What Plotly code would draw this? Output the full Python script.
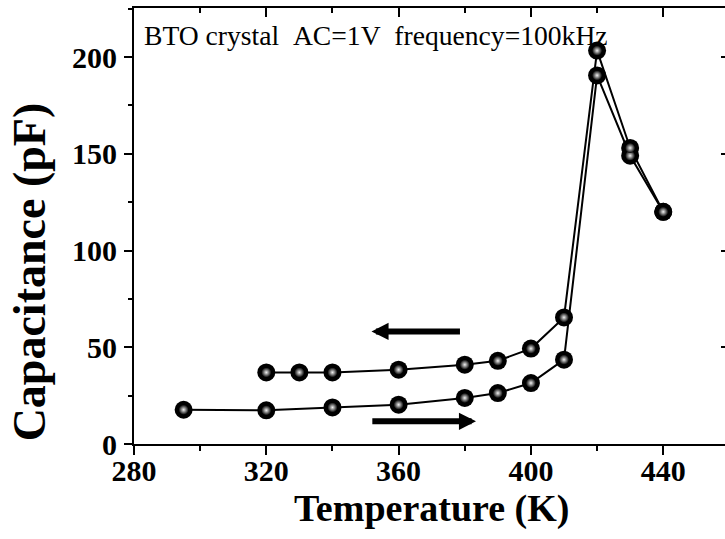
import plotly.graph_objects as go

# Heating run (arrow to the right) and cooling run (arrow to the left)
heat_temp = [295, 320, 340, 360, 380, 390, 400, 410, 420, 430, 440]
heat_cap = [17.7, 17.4, 18.9, 20.3, 23.8, 26.3, 31.5, 43.6, 190.5, 149, 120]
cool_temp = [440, 430, 420, 410, 400, 390, 380, 360, 340, 330, 320]
cool_cap = [120, 153, 203.3, 65.4, 49.3, 43, 41, 38.4, 37, 37, 37]

x_ticks = [280, 320, 360, 400, 440]
y_ticks = [0, 50, 100, 150, 200]

W, H = 725, 539
L, R, T, B = 134.3, 0, 8.3, 94.7
plot_w = W - L - R
plot_h = H - T - B


def px(xp):
    return (xp - L) / plot_w


def py(yp):
    return (H - B - yp) / plot_h


serif = "Liberation Serif"
fig = go.Figure()

for tx, cy in [(heat_temp, heat_cap), (cool_temp, cool_cap)]:
    fig.add_trace(go.Scatter(
        x=tx, y=cy, mode="lines+markers",
        line=dict(color="black", width=2),
        marker=dict(size=18, color="black"),
        showlegend=False, hoverinfo="skip",
    ))
for tx, cy in [(heat_temp, heat_cap), (cool_temp, cool_cap)]:
    fig.add_trace(go.Scatter(
        x=tx, y=cy, mode="markers",
        marker=dict(size=10, color="black",
                    gradient=dict(type="radial", color="#f2f2f2")),
        showlegend=False, hoverinfo="skip",
    ))

# mirror axes (top / right) carry inward ticks
fig.add_trace(go.Scatter(x=[None], y=[None], xaxis="x2", yaxis="y2",
                         showlegend=False, hoverinfo="skip"))

x_range = [280, 280 + plot_w / 3.306]
y_range = [0, plot_h / 1.935]

tickfont = dict(family=serif, size=30, color="black", weight="bold")

fig.update_layout(
    width=W, height=H,
    margin=dict(l=L, r=R, t=T, b=B),
    paper_bgcolor="white", plot_bgcolor="white",
    xaxis=dict(
        range=x_range, tickvals=x_ticks, ticks="outside", ticklen=9,
        tickwidth=2, tickcolor="black", showline=True, linewidth=2,
        linecolor="black", showgrid=False, zeroline=False,
        tickfont=tickfont, ticklabelstandoff=-10,
        minor=dict(dtick=20, tick0=280, ticks="outside", ticklen=5,
                   tickwidth=2, tickcolor="black", showgrid=False),
    ),
    yaxis=dict(
        range=y_range, tickvals=y_ticks, ticks="outside", ticklen=8,
        tickwidth=2, tickcolor="black", showline=True, linewidth=2,
        linecolor="black", showgrid=False, zeroline=False,
        tickfont=tickfont, ticklabelstandoff=1,
        minor=dict(dtick=25, tick0=0, ticks="outside", ticklen=4,
                   tickwidth=2, tickcolor="black", showgrid=False),
    ),
    xaxis2=dict(
        overlaying="x", side="top", matches="x", range=x_range,
        tickvals=x_ticks, ticks="inside", ticklen=9, tickwidth=2,
        tickcolor="black", showline=True, linewidth=2, linecolor="black",
        showticklabels=False, showgrid=False, zeroline=False,
        minor=dict(dtick=20, tick0=280, ticks="inside", ticklen=5,
                   tickwidth=2, tickcolor="black", showgrid=False),
    ),
    yaxis2=dict(
        overlaying="y", side="right", matches="y", range=y_range,
        tickvals=y_ticks, ticks="inside", ticklen=4, tickwidth=2,
        tickcolor="black", showline=False, showticklabels=False,
        showgrid=False, zeroline=False,
    ),
    annotations=[
        dict(text="BTO\u00a0crystal\u00a0\u00a0AC=1V\u00a0\u00a0frequency=100kHz",
             xref="paper", yref="paper", x=px(142), y=py(36),
             xanchor="left", yanchor="middle", showarrow=False,
             font=dict(family=serif, size=27.6, color="black")),
        dict(text="Temperature (K)", xref="paper", yref="paper",
             x=px(432), y=py(509), xanchor="center", yanchor="middle",
             showarrow=False,
             font=dict(family=serif, size=38, color="black", weight="bold")),
        dict(text="Capacitance (pF)", xref="paper", yref="paper",
             x=px(30), y=py(272), xanchor="center", yanchor="middle",
             textangle=-90, showarrow=False,
             font=dict(family=serif, size=46, color="black", weight="bold")),
        # direction arrows
        dict(x=351.8, y=58.2, ax=379.0, ay=58.2, xref="x", yref="y",
             axref="x", ayref="y", showarrow=True, arrowhead=2,
             arrowsize=0.57, arrowwidth=6, arrowcolor="black", text=""),
        dict(x=383.4, y=11.7, ax=351.6, ay=11.7, xref="x", yref="y",
             axref="x", ayref="y", showarrow=True, arrowhead=2,
             arrowsize=0.57, arrowwidth=6, arrowcolor="black", text=""),
    ],
)

fig.write_html("out.html")
